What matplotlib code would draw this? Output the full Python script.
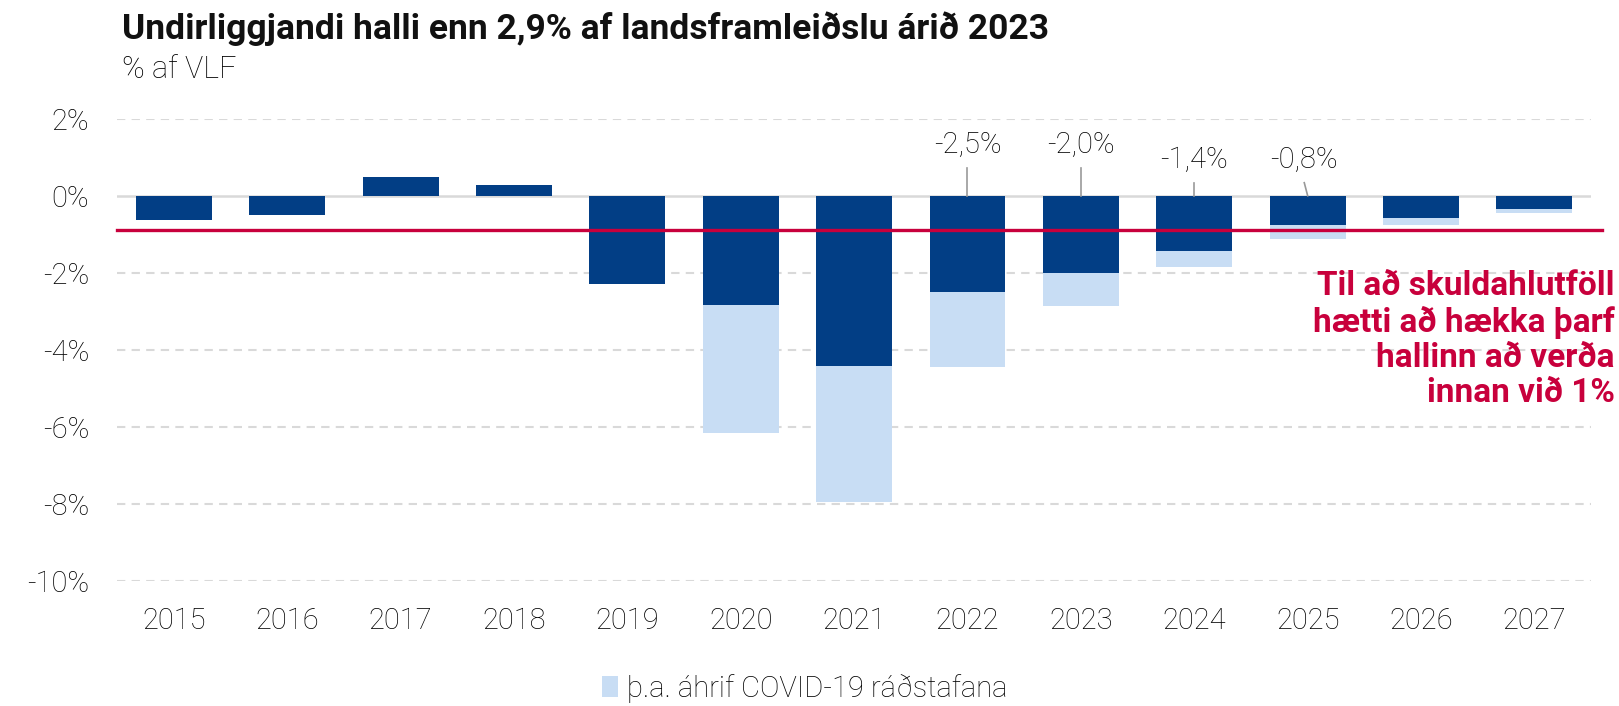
import matplotlib
matplotlib.use("Agg")
import matplotlib.pyplot as plt
from matplotlib.patches import Patch

years = ["2015", "2016", "2017", "2018", "2019", "2020", "2021",
         "2022", "2023", "2024", "2025", "2026", "2027"]
underlying = [-0.62, -0.51, 0.49, 0.28, -2.30, -2.84, -4.42,
              -2.50, -2.00, -1.44, -0.76, -0.58, -0.35]
covid = [0.0, 0.0, 0.0, 0.0, 0.0, -3.32, -3.54,
         -1.96, -0.87, -0.42, -0.37, -0.17, -0.11]
threshold = -0.9
label_years = ["2022", "2023", "2024", "2025"]
label_texts = ["-2,5%", "-2,0%", "-1,4%", "-0,8%"]
yticks = [2, 0, -2, -4, -6, -8, -10]

DARK = "#023E85"
LIGHT = "#C8DDF4"
RED = "#C8003C"
GRID = "#D9D9D9"
TXT = "#000000"
FONT = "Roboto"
FS = 21

plt.rcParams["font.family"] = [FONT, "DejaVu Sans"]

fig = plt.figure(figsize=(16.19, 7.06), dpi=100)
ax = fig.add_axes([0.0723, 0.1776, 0.9105, 0.6541])

x = list(range(len(years)))
ax.bar(x, underlying, width=0.67, color=DARK, zorder=3)
ax.bar(x, covid, width=0.67, bottom=[min(u, 0) for u in underlying],
       color=LIGHT, zorder=3)

ax.set_xlim(-0.5, 12.5)
ax.set_ylim(-10, 2)
ax.set_yticks(yticks)
ax.set_yticklabels([f"{v}%" for v in yticks])
ax.set_xticks(x)
ax.set_xticklabels(years)
for v in yticks:
    if v == 0:
        ax.axhline(0, color=GRID, lw=1.8, zorder=2)
    else:
        ax.axhline(v, color=GRID, lw=1.5, ls=(0, (4, 3)), zorder=1)
for s in ax.spines.values():
    s.set_visible(False)
ax.tick_params(axis="both", length=0, labelsize=FS, colors=TXT)
ax.tick_params(axis="y", pad=20)
ax.tick_params(axis="x", pad=19)
for lab in ax.get_xticklabels() + ax.get_yticklabels():
    lab.set_fontweight("light")

# threshold line
ax.plot([-0.5, 12.6], [threshold, threshold], color=RED, lw=2.4,
        zorder=4, clip_on=False)

# value labels with leader lines
for yr, txt in zip(label_years, label_texts):
    i = years.index(yr)
    high = i < 9
    ty = 1.31 if high else 0.92
    ly = 0.71 if high else 0.34
    dx = -0.03 if yr == "2025" else 0.0
    ax.text(i + dx, ty, txt, ha="center", va="center", fontsize=FS,
            fontweight="light", color=TXT, zorder=5)
    ax.plot([i + dx, i], [ly, 0], color="#999999", lw=1.2, zorder=5)

# red annotation
ax.text(1.016, 0.522, "Til að skuldahlutföll\nhætti að hækka þarf\nhallinn að verða\ninnan við 1%",
        transform=ax.transAxes, ha="right", va="center", color=RED,
        fontsize=24, fontweight="bold", linespacing=1.12, zorder=6)

# title and subtitle
fig.text(0.0754, 0.960, "Undirliggjandi halli enn 2,9% af landsframleiðslu árið 2023",
         ha="left", va="center", fontsize=25.5, fontweight="bold", color="#111111")
fig.text(0.0754, 0.902, "% af VLF", ha="left", va="center", fontsize=22,
         fontweight="light", color=TXT)

# legend
fig.legend(handles=[Patch(facecolor=LIGHT, edgecolor="none",
                          label="þ.a. áhrif COVID-19 ráðstafana")],
           loc="center", bbox_to_anchor=(0.497, 0.025), frameon=False,
           handlelength=0.55, handleheight=0.75, handletextpad=0.3,
           prop={"family": FONT, "weight": "light", "size": FS})

fig.savefig("out.png", dpi=100)
